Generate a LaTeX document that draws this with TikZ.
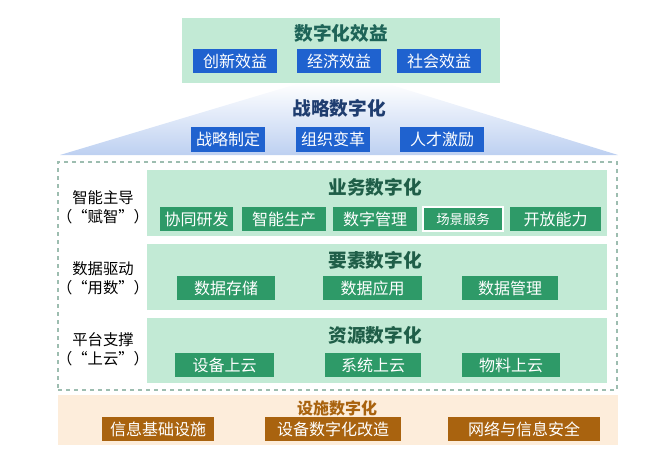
\documentclass[tikz,border=0pt]{standalone}
\usepackage{fontspec}
\setmainfont{Noto Sans CJK SC}
\usetikzlibrary{positioning}
\usepackage{xcolor}
\definecolor{MintBg}{HTML}{C2EAD5}
\definecolor{MintBox}{HTML}{2E9A68}
\definecolor{MintTitle}{HTML}{1F5E48}
\definecolor{TealTitle}{HTML}{1E6458}
\definecolor{StratBlue}{HTML}{1F62CF}
\definecolor{StratTitle}{HTML}{1F3D70}
\definecolor{StratShade}{HTML}{BDD0F1}
\definecolor{InfraBg}{HTML}{FDEDDB}
\definecolor{InfraBox}{HTML}{A9630F}
\definecolor{DashGray}{HTML}{9DBDB0}
\tikzset{
    % Background panels
    panel/.style 2 args={
        rectangle,
        inner sep=0pt,
        minimum width=#1*0.75pt,
        minimum height=#2*0.75pt
    },
    layer/.style={
        fill=MintBg
    },
    % Small label boxes
    tag/.style 2 args={
        rectangle,
        inner sep=0pt,
        text=white,
        minimum width=#1*0.75pt,
        minimum height=#2*0.75pt,
        font=\fontsize{12}{13.5}\selectfont
    },
    bluetag/.style={fill=StratBlue},
    greentag/.style={fill=MintBox},
    orangetag/.style={fill=InfraBox},
    % Titles
    heading/.style={
        font=\fontsize{14}{16}\selectfont\bfseries
    },
    sidelabel/.style={
        align=center,
        font=\fontsize{11.5}{14.5}\selectfont
    }
}

\begin{document}
\begin{tikzpicture}[x=0.75pt, y=-0.75pt]
    \useasboundingbox (0,0) rectangle (672,468);

    % Strategy trapezoid
    \shade[top color=white, bottom color=StratShade] (300,83) -- (385,83) -- (618,155) -- (60,155) -- cycle;
    \node[heading, text=StratTitle] (strat) at (339,108) {战略数字化};
    \node[tag={74}{25}, bluetag] (s1) at (228,139.5) {战略制定};
    \node[tag={74}{25}, bluetag] (s2) at (333,139.5) {组织变革};
    \node[tag={84}{25}, bluetag] (s3) at (442,139.5) {人才激励};

    % Benefits panel
    \node[panel={318}{65}, layer] (benefit) at (341,50.5) {};
    \node[heading, text=TealTitle] (benefitT) at (341,33) {数字化效益};
    \node[tag={84}{24}, bluetag] (b1) at (235,61) {创新效益};
    \node[tag={84}{24}, bluetag] (b2) at (339,61) {经济效益};
    \node[tag={84}{24}, bluetag] (b3) at (439,61) {社会效益};

    % Dashed frame round the three layers
    \node[panel={559}{228}, draw=DashGray, dashed, line width=0.8pt] (frame) at (337.5,276) {};

    % Business layer
    \node[panel={460}{66}, layer] (biz) at (377,203) {};
    \node[heading, text=MintTitle] (bizT) at (375,187) {业务数字化};
    \node[tag={73}{24}, greentag] (z1) at (196.5,219) {协同研发};
    \node[tag={84}{24}, greentag] (z2) at (284,219) {智能生产};
    \node[tag={84}{24}, greentag] (z3) at (375,219) {数字管理};
    \node[tag={80}{24}, greentag, draw=white, line width=1pt, font=\fontsize{10}{12}\selectfont] (z4) at (463,219) {场景服务};
    \node[tag={91}{24}, greentag] (z5) at (555.5,219) {开放能力};
    \node[sidelabel] (bizL) at (103,207) {智能主导\\（“赋智”）};

    % Element layer
    \node[panel={460}{66}, layer] (elem) at (377,277) {};
    \node[heading, text=MintTitle] (elemT) at (375,260) {要素数字化};
    \node[tag={98}{24}, greentag] (e1) at (226,288) {数据存储};
    \node[tag={99}{24}, greentag] (e2) at (372.5,288) {数据应用};
    \node[tag={96}{24}, greentag] (e3) at (510,288) {数据管理};
    \node[sidelabel] (elemL) at (103,278.5) {数据驱动\\（“用数”）};

    % Resource layer
    \node[panel={460}{65}, layer] (res) at (377,350.5) {};
    \node[heading, text=MintTitle] (resT) at (375,335) {资源数字化};
    \node[tag={99}{24}, greentag] (r1) at (224.5,365) {设备上云};
    \node[tag={96}{24}, greentag] (r2) at (373,365) {系统上云};
    \node[tag={98}{24}, greentag] (r3) at (511,365) {物料上云};
    \node[sidelabel] (resL) at (103,349.5) {平台支撑\\（“上云”）};

    % Infrastructure panel
    \node[panel={560}{50}, fill=InfraBg] (infra) at (338,420) {};
    \node[font=\fontsize{12}{14}\selectfont\bfseries, text=InfraBox] (infraT) at (337,408) {设施数字化};
    \node[tag={112}{24}, orangetag] (i1) at (158,429) {信息基础设施};
    \node[tag={136}{24}, orangetag] (i2) at (333,429) {设备数字化改造};
    \node[tag={152}{24}, orangetag] (i3) at (524,429) {网络与信息安全};
\end{tikzpicture}
\end{document}
